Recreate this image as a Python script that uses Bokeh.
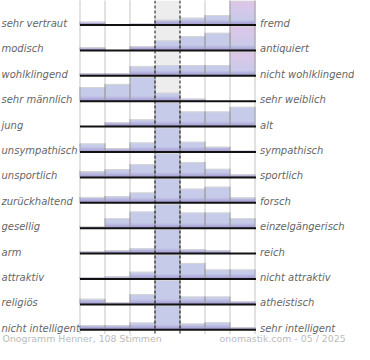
from bokeh.plotting import figure
from bokeh.models import Range1d
from bokeh.embed import file_html
from bokeh.resources import INLINE
from bokeh.core.properties import value

# ---------------- data ----------------
left_labels = ["sehr vertraut", "modisch", "wohlklingend", "sehr männlich", " jung",
               "unsympathisch", "unsportlich", "zurückhaltend", "gesellig", "arm",
               "attraktiv", "religiös", "nicht intelligent"]
right_labels = ["fremd", "antiquiert", "nicht wohlklingend", "sehr weiblich", "alt",
                "sympathisch", "sportlich", "forsch", "einzelgängerisch", "reich",
                "nicht attraktiv", "atheistisch", "sehr intelligent"]

# share of votes per scale position (1 = full row height, >1 = overflow)
pos1 = [0.13, 0.12, 0.10, 0.58, 0.00, 0.35, 0.26, 0.24, 0.09, 0.09, 0.07, 0.23, 0.19]
pos2 = [0.00, 0.00, 0.10, 0.71, 0.18, 0.15, 0.34, 0.28, 0.41, 0.14, 0.10, 0.08, 0.19]
pos3 = [0.05, 0.17, 0.39, 1.00, 0.30, 0.39, 0.55, 0.42, 0.68, 0.21, 0.30, 0.42, 0.30]
pos4 = [0.22, 0.41, 0.44, 0.35, 1.00, 1.00, 1.00, 1.00, 1.00, 1.00, 1.00, 1.00, 1.00]
pos5 = [0.30, 0.59, 0.44, 0.10, 0.62, 0.42, 0.63, 0.58, 0.64, 0.17, 0.66, 0.32, 0.26]
pos6 = [0.41, 0.72, 0.44, 0.00, 0.62, 0.22, 0.35, 0.66, 0.64, 0.13, 0.39, 0.32, 0.31]
pos7 = [1.40, 1.25, 1.15, 0.00, 0.81, 0.05, 0.12, 0.22, 0.41, 0.00, 0.39, 0.13, 0.10]
positions = [pos1, pos2, pos3, pos4, pos5, pos6, pos7]

footer_left = "Onogramm Henner, 108 Stimmen"
footer_right = "onomastik.com - 05 / 2025"

# ---------------- layout ----------------
W, H = 354, 344
PXX = 25.0                     # pixels per column
PXY = 25.4                     # pixels per row
X0 = 79.5                      # left of bar area in figure pixels
FIRST_BASE = 24.5              # first baseline in figure pixels
pxx = 1.0 / PXX
pxy = 1.0 / PXY
n_rows = len(left_labels)
n_cols = len(positions)
H_FULL = 1 - 1 * pxy
y_top = -1 + FIRST_BASE / PXY

p = figure(width=W, height=H, output_backend="svg", toolbar_location=None,
           x_range=Range1d(-X0 / PXX, (W - X0) / PXX),
           y_range=Range1d(y_top - H / PXY, y_top),
           min_border=0, outline_line_color=None, background_fill_color="white",
           border_fill_color="white")
p.axis.visible = False
p.grid.visible = False

bottom_all = -n_rows
line_end = bottom_all - 4 * pxy

# middle column grey background
p.quad(left=[3], right=[4], top=[y_top], bottom=[bottom_all], fill_color="#ededed",
       line_color=None)

# dotted column guides
for c in [0, 1, 2, 5, 6, 7]:
    p.segment(x0=[c], y0=[y_top], x1=[c], y1=[line_end], line_color="#8a8a8a",
              line_width=1, line_dash="1 1")


def mix(c1, c2, t):
    a = [int(c1[i:i + 2], 16) for i in (1, 3, 5)]
    b = [int(c2[i:i + 2], 16) for i in (1, 3, 5)]
    return "#%02x%02x%02x" % tuple(round(a[i] + (b[i] - a[i]) * t) for i in range(3))


BLUE = "#c6cbea"
PINK = "#ddc6e7"
PURPLE = "#a299d1"

base = dict(left=[], right=[], top=[], bottom=[], color=[])
edges_side = dict(x0=[], y0=[], x1=[], y1=[])
edges_top = dict(x0=[], y0=[], x1=[], y1=[])

for r in range(n_rows):
    y0 = -(r + 1)
    for c in range(n_cols):
        v = positions[c][r]
        if v <= 0:
            continue
        h = min(v, 1.0) * H_FULL
        top = y0 + h
        if v > 1.0:
            n = 12
            for k in range(n):
                t0 = top - h * k / n
                base["left"].append(c); base["right"].append(c + 1)
                base["top"].append(t0); base["bottom"].append(y0)
                base["color"].append(mix(PINK, BLUE, k / (n - 1)))
        else:
            base["left"].append(c); base["right"].append(c + 1)
            base["top"].append(top); base["bottom"].append(y0)
            base["color"].append(BLUE)
        # bottom purple shading (drawn from top strip down, each reaching the base)
        for k in range(4, -1, -1):
            b1 = min(y0 + (k + 1) * pxy, top)
            if y0 + k * pxy >= top:
                continue
            base["left"].append(c); base["right"].append(c + 1)
            base["top"].append(b1); base["bottom"].append(y0)
            base["color"].append(mix(PURPLE, BLUE, k / 5))
        edges_top["x0"].append(c); edges_top["x1"].append(c + 1)
        edges_top["y0"].append(top - 0.5 * pxy); edges_top["y1"].append(top - 0.5 * pxy)
        for xe in (c, c + 1):
            edges_side["x0"].append(xe); edges_side["x1"].append(xe)
            edges_side["y0"].append(y0); edges_side["y1"].append(top)

p.quad(left="left", right="right", top="top", bottom="bottom", fill_color="color",
       line_color=None, source=base)
p.segment(x0="x0", y0="y0", x1="x1", y1="y1", line_color="#d6d6d6", line_width=1,
          source=edges_top)
p.segment(x0="x0", y0="y0", x1="x1", y1="y1", line_color="#a0a0a0", line_width=1,
          source=edges_side)

# dashed middle lines
for c in [3, 4]:
    p.segment(x0=[c], y0=[y_top], x1=[c], y1=[line_end], line_color="#111111",
              line_width=1, line_dash="3 2")

# baselines
p.segment(x0=[0] * n_rows, x1=[n_cols + 0.04] * n_rows,
          y0=[-(r + 1) for r in range(n_rows)], y1=[-(r + 1) for r in range(n_rows)],
          line_color="#111111", line_width=2)

# labels
ys = [-(r + 1) + 1.5 * pxy for r in range(n_rows)]
p.text(x=[(1 - X0) / PXX] * n_rows, y=ys, text=left_labels, text_font=value("DejaVu Sans"),
       text_font_style="italic", text_font_size="10px", text_color="#666666",
       text_align="left", text_baseline="alphabetic")
p.text(x=[(259.5 - X0) / PXX] * n_rows, y=ys, text=right_labels,
       text_font=value("DejaVu Sans"), text_font_style="italic", text_font_size="10px",
       text_color="#666666", text_align="left", text_baseline="alphabetic")

fy = y_top - 338.0 / PXY
p.text(x=[(2 - X0) / PXX], y=[fy], text=[footer_left], text_font=value("DejaVu Sans"),
       text_font_size="9.4px", text_color="#bbbbbb", text_align="left",
       text_baseline="alphabetic")
p.text(x=[(219 - X0) / PXX], y=[fy], text=[footer_right], text_font=value("DejaVu Sans"),
       text_font_size="9.4px", text_color="#bbbbbb", text_align="left",
       text_baseline="alphabetic")

open("out.html", "w").write(file_html(p, INLINE))
